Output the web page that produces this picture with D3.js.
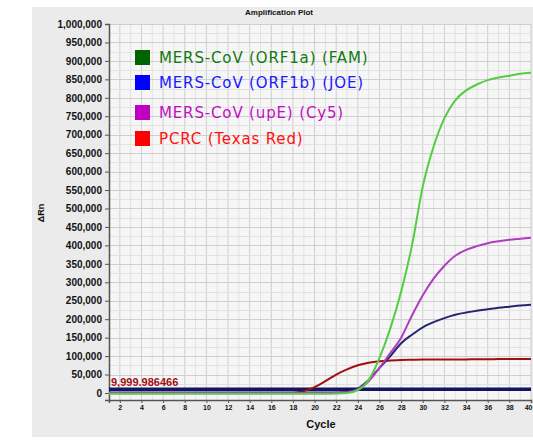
<!DOCTYPE html>
<html lang="en">
<head>
<meta charset="UTF-8">
<title>Amplification Plot</title>
<style>
  body { margin: 0; background: #fff; }
  svg { display: block; }
  .tick-label { font-family: "Liberation Sans", Arial, sans-serif; font-weight: bold; fill: #111; }
  .legend-text { font-family: "DejaVu Sans", Verdana, sans-serif; font-size: 15px; letter-spacing: 0.85px; }
</style>
</head>
<body>
<div id="chart"></div>
<script src="https://cdnjs.cloudflare.com/ajax/libs/d3/7.8.5/d3.min.js"></script>
<script>
  // cycles 1..40
  var cycles = d3.range(1, 41);

  var famValues = [
    -2000, -2000, -2000, -2000, -2000, -2000, -2000, -2000, -2000, -2000,
    -2000, -2000, -2000, -2000, -2000, -2000, -2000, -2000, -2000, -2000,
    -2000, -1500, 0, 8000, 35000, 95000, 175000, 275000, 400000, 560000,
    668000, 745000, 793000, 820000, 836000, 848000, 855000, 860000, 865000, 868000
  ];
  var joeValues = [
    1000, 1000, 1000, 1000, 1000, 1000, 1000, 1000, 1000, 1000,
    1000, 1000, 1000, 1000, 1000, 1000, 1000, 1000, 1000, 1000,
    1000, 1500, 3000, 12000, 35000, 68000, 100000, 135000, 158000, 178000,
    192000, 203000, 212000, 218000, 223000, 227000, 231000, 234000, 237000, 239000
  ];
  var cy5Values = [
    0, 0, 0, 0, 0, 0, 0, 0, 0, 0,
    0, 0, 0, 0, 0, 0, 0, 0, 0, 0,
    0, 500, 2000, 10000, 32000, 68000, 108000, 150000, 210000, 265000,
    310000, 345000, 372000, 388000, 398000, 406000, 411000, 415000, 418000, 421000
  ];
  var pcrcValues = [
    0, 0, 0, 0, 0, 0, 0, 0, 0, 0,
    0, 0, 0, 0, 0, 0, 0, 0, 5000, 16000,
    32000, 50000, 64000, 75000, 82000, 86000, 88000, 89500, 90000, 90500,
    90500, 91000, 91000, 91000, 91500, 91500, 92000, 92000, 92000, 92000
  ];

  var seriesNames = ['MERS-CoV (ORF1a) (FAM)', 'MERS-CoV (ORF1b) (JOE)', 'MERS-CoV (upE) (Cy5)', 'PCRC (Texas Red)'];
  var lineColors = ['#55cc44', '#262670', '#b03cc0', '#a01010'];
  var legendSwatch = ['#006400', '#0000ff', '#c000c0', '#ff0000'];
  var legendText = ['#107a10', '#1a1aff', '#c010c0', '#ff1010'];

  var threshold = 9999.986466;
  var thresholdLabel = '9,999.986466';

  var yTicks = d3.range(0, 1000001, 50000);
  var xTicks = d3.range(2, 41, 2);

  var width = 533, height = 442;
  var plot = {left: 109, right: 531, top: 24, bottom: 400};

  var svg = d3.select('#chart').append('svg')
    .attr('width', width)
    .attr('height', height);

  // grey panel
  svg.append('rect')
    .attr('x', 32).attr('y', 7)
    .attr('width', width - 32).attr('height', 430)
    .attr('fill', '#ebebeb');

  var x = d3.scaleLinear().domain([1, 40]).range([plot.left, plot.right]);
  var y = d3.scaleLinear().domain([-19000, 1000000]).range([plot.bottom, plot.top]);

  // plot background
  svg.append('rect')
    .attr('x', plot.left).attr('y', plot.top)
    .attr('width', plot.right - plot.left).attr('height', plot.bottom - plot.top)
    .attr('fill', '#f6f6f6');

  var grid = svg.append('g');
  d3.range(1, 41).forEach(function(c) {
    grid.append('line')
      .attr('x1', x(c)).attr('x2', x(c))
      .attr('y1', plot.top).attr('y2', plot.bottom)
      .attr('stroke', c % 2 === 0 ? '#cfcfcf' : '#e2e2e2')
      .attr('stroke-width', 1);
  });
  d3.range(25000, 1000001, 25000).forEach(function(v) {
    grid.append('line')
      .attr('x1', plot.left).attr('x2', plot.right)
      .attr('y1', Math.round(y(v)) + 0.5).attr('y2', Math.round(y(v)) + 0.5)
      .attr('stroke', v % 50000 === 0 ? '#cfcfcf' : '#e2e2e2')
      .attr('stroke-width', 1);
  });

  // title
  svg.append('text')
    .attr('x', 279).attr('y', 15)
    .attr('text-anchor', 'middle')
    .attr('class', 'tick-label')
    .style('font-size', '8px')
    .text('Amplification Plot');

  // axes
  var yAxis = svg.append('g')
    .attr('transform', 'translate(' + plot.left + ',0)')
    .call(d3.axisLeft(y).tickValues(yTicks).tickSize(4).tickPadding(3).tickFormat(d3.format(',')));
  yAxis.select('.domain').attr('stroke', '#555').attr('stroke-width', 1.5);
  yAxis.selectAll('.tick line').attr('stroke', '#555');
  yAxis.selectAll('.tick text').attr('class', 'tick-label').style('font-size', '10px');

  var xAxis = svg.append('g')
    .attr('transform', 'translate(0,' + plot.bottom + ')')
    .call(d3.axisBottom(x).tickValues(xTicks).tickSize(3).tickPadding(2));
  xAxis.select('.domain').attr('stroke', '#555').attr('stroke-width', 1.5);
  xAxis.selectAll('.tick line').attr('stroke', '#555');
  xAxis.selectAll('.tick text').attr('class', 'tick-label').style('font-size', '7px')
    .attr('text-anchor', function(d) { return d === 40 ? 'end' : 'middle'; })
    .attr('dx', function(d) { return d === 40 ? 1 : 0; });

  svg.append('text')
    .attr('x', 321).attr('y', 428)
    .attr('text-anchor', 'middle')
    .attr('class', 'tick-label')
    .style('font-size', '11px')
    .text('Cycle');

  svg.append('text')
    .attr('transform', 'translate(44,213) rotate(-90)')
    .attr('text-anchor', 'middle')
    .attr('class', 'tick-label')
    .style('font-size', '9px')
    .text('ΔRn');

  // threshold
  svg.append('line')
    .attr('x1', plot.left).attr('x2', plot.right)
    .attr('y1', y(threshold)).attr('y2', y(threshold))
    .attr('stroke', '#141464')
    .attr('stroke-width', 3.5);

  svg.append('text')
    .attr('x', 111).attr('y', 386)
    .attr('class', 'tick-label')
    .style('font-size', '11px')
    .style('fill', '#a01010')
    .text(thresholdLabel);

  // curves
  var allValues = [famValues, joeValues, cy5Values, pcrcValues];
  var line = d3.line()
    .x(function(d, i) { return x(cycles[i]); })
    .y(function(d) { return y(d); })
    .curve(d3.curveMonotoneX);

  var drawOrder = [3, 1, 2, 0];
  drawOrder.forEach(function(k) {
    svg.append('path')
      .attr('d', line(allValues[k]))
      .attr('fill', 'none')
      .attr('stroke', lineColors[k])
      .attr('stroke-width', 2);
  });

  // legend
  var legendY = [58, 83, 113, 139];
  var legend = svg.append('g');
  seriesNames.forEach(function(name, i) {
    legend.append('rect')
      .attr('x', 135).attr('y', legendY[i] - 8)
      .attr('width', 15).attr('height', 15)
      .attr('fill', legendSwatch[i]);
    legend.append('text')
      .attr('x', 159).attr('y', legendY[i] + 5)
      .attr('class', 'legend-text')
      .attr('fill', legendText[i])
      .text(name);
  });
</script>
</body>
</html>
